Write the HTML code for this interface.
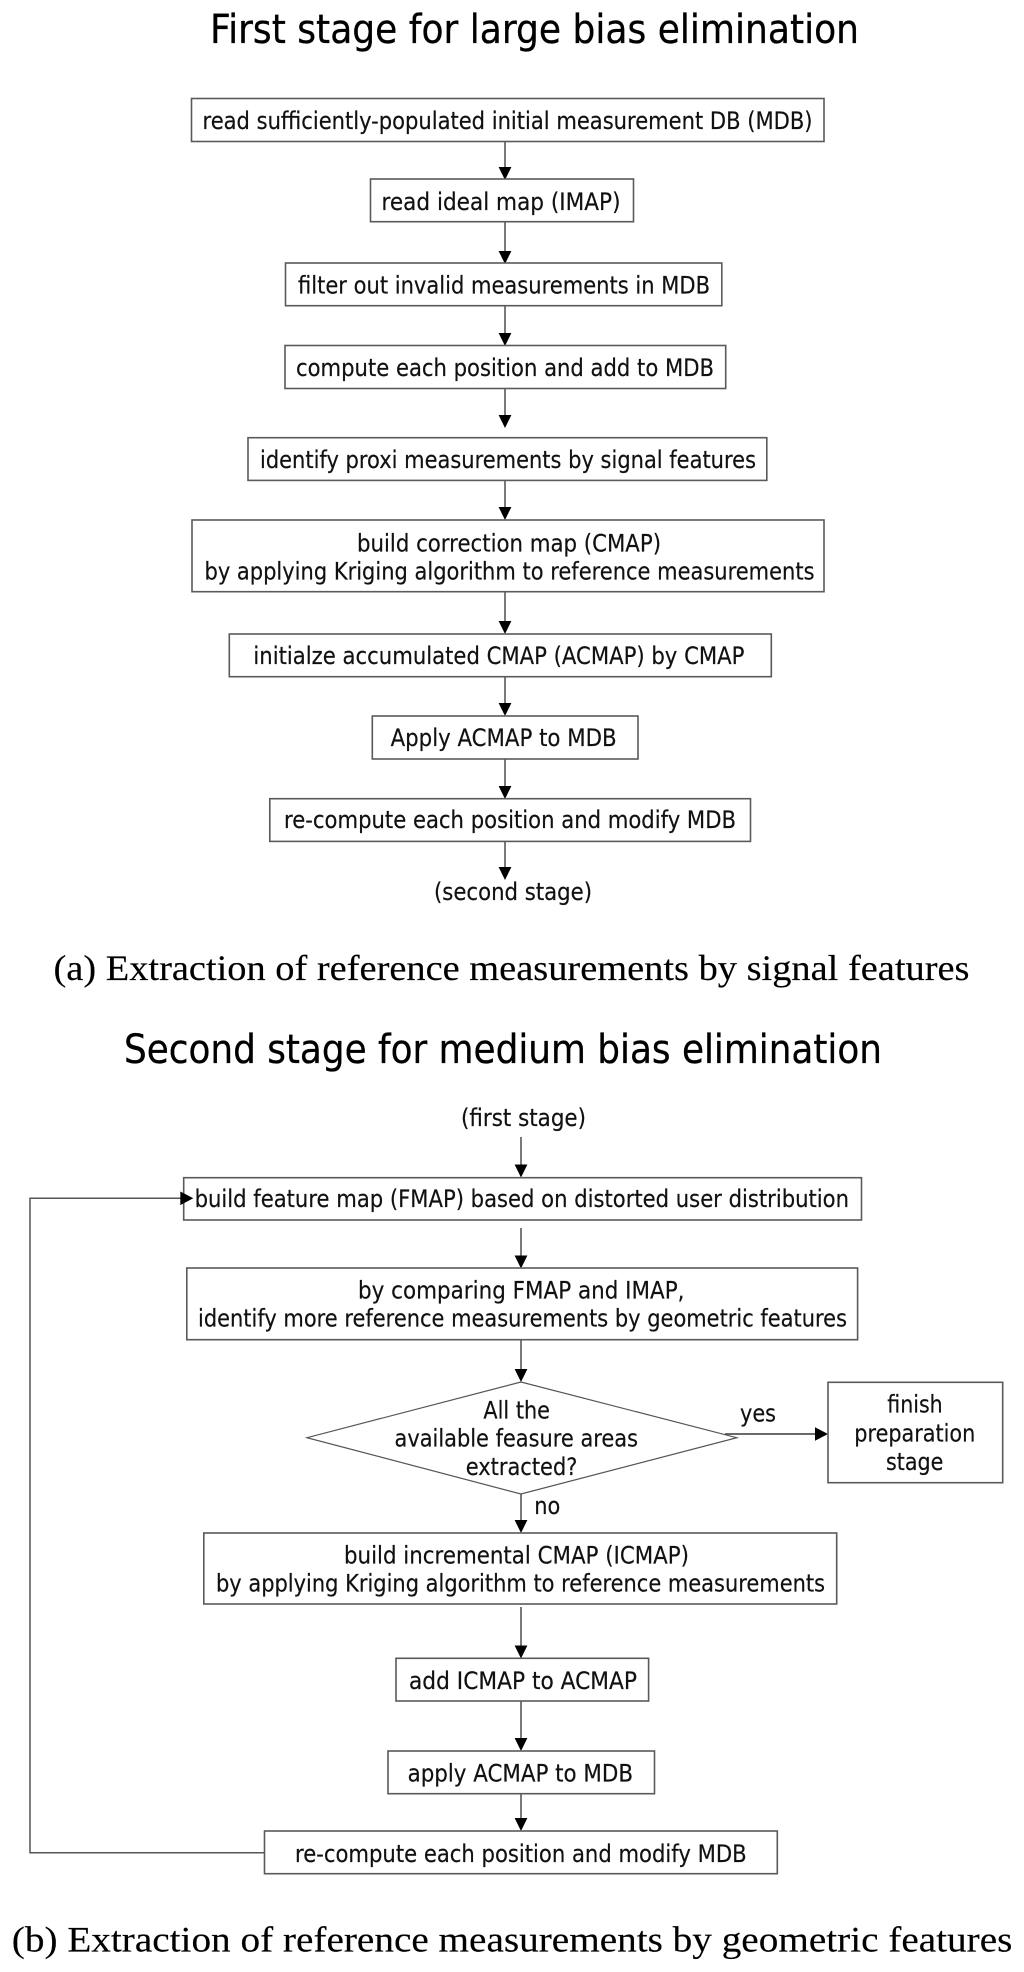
<!DOCTYPE html>
<html>
<head>
<meta charset="utf-8">
<style>
html,body{margin:0;padding:0;background:#fff;width:1024px;height:1972px;overflow:hidden}
svg{display:block}
.t{font-family:"DejaVu Sans","Liberation Sans",sans-serif;font-size:24px;fill:#111;stroke:#111;stroke-width:.2}
.h{font-family:"DejaVu Sans","Liberation Sans",sans-serif;font-size:40px;fill:#000;stroke:#000;stroke-width:.3}
.c{font-family:"Liberation Serif",serif;font-size:36px;fill:#000;stroke:#000;stroke-width:.15}
.b{fill:#fff;stroke:#5a5a5a;stroke-width:1.6}
.l{stroke:#333;stroke-width:1.3;fill:none}
.a{fill:#000}
</style>
</head>
<body>
<svg width="1024" height="1972" viewBox="0 0 1024 1972" xmlns="http://www.w3.org/2000/svg">
<rect width="1024" height="1972" fill="#fff"/>

<!-- connectors, first stage -->
<path class="l" d="M505 141V170M505 222V252M505 306V335M505 388V418M505 480V510M505 592V624M505 677V706M505 757V789M505 841V870"/>
<path class="a" d="M505 180l-6.4-13h12.8zM505 264l-6.4-13h12.8zM505 346l-6.4-13h12.8zM505 428l-6.4-13h12.8zM505 520l-6.4-13h12.8zM505 634l-6.4-13h12.8zM505 716l-6.4-13h12.8zM505 799l-6.4-13h12.8zM505 880l-6.4-13h12.8z"/>

<text class="h" x="210" y="43" textLength="649" lengthAdjust="spacingAndGlyphs">First stage for large bias elimination</text>

<rect class="b" x="191.5" y="98.5" width="632.5" height="43"/>
<text class="t" x="202.5" y="129" textLength="610" lengthAdjust="spacingAndGlyphs">read sufficiently-populated initial measurement DB (MDB)</text>
<rect class="b" x="370.5" y="179" width="263" height="42.7"/>
<text class="t" x="381.5" y="210" textLength="239" lengthAdjust="spacingAndGlyphs">read ideal map (IMAP)</text>
<rect class="b" x="285.5" y="263" width="436.3" height="42.7"/>
<text class="t" x="298" y="293.5" textLength="412" lengthAdjust="spacingAndGlyphs">filter out invalid measurements in MDB</text>
<rect class="b" x="285" y="345.5" width="440.7" height="43"/>
<text class="t" x="296" y="376" textLength="418" lengthAdjust="spacingAndGlyphs">compute each position and add to MDB</text>
<rect class="b" x="248" y="437.7" width="518.8" height="42.7"/>
<text class="t" x="260" y="468" textLength="496" lengthAdjust="spacingAndGlyphs">identify proxi measurements by signal features</text>
<rect class="b" x="192" y="520" width="632" height="71.7"/>
<text class="t" x="357" y="551.7" textLength="304" lengthAdjust="spacingAndGlyphs">build correction map (CMAP)</text>
<text class="t" x="204.5" y="579.3" textLength="610" lengthAdjust="spacingAndGlyphs">by applying Kriging algorithm to reference measurements</text>
<rect class="b" x="229.3" y="634" width="542" height="42.7"/>
<text class="t" x="253.4" y="664" textLength="491" lengthAdjust="spacingAndGlyphs">initialze accumulated CMAP (ACMAP) by CMAP</text>
<rect class="b" x="372.3" y="716" width="265.7" height="43"/>
<text class="t" x="390.6" y="746" textLength="226" lengthAdjust="spacingAndGlyphs">Apply ACMAP to MDB</text>
<rect class="b" x="269.8" y="798.7" width="480.7" height="42.7"/>
<text class="t" x="284" y="828" textLength="452" lengthAdjust="spacingAndGlyphs">re-compute each position and modify MDB</text>
<text class="t" x="434" y="900" textLength="158" lengthAdjust="spacingAndGlyphs">(second stage)</text>

<text class="c" x="53.5" y="980" textLength="916" lengthAdjust="spacingAndGlyphs">(a) Extraction of reference measurements by signal features</text>

<!-- second stage -->
<text class="h" x="124" y="1063" textLength="758" lengthAdjust="spacingAndGlyphs">Second stage for medium bias elimination</text>
<text class="t" x="461" y="1126" textLength="125" lengthAdjust="spacingAndGlyphs">(first stage)</text>

<path class="l" d="M521 1137V1167M521 1228V1258M521 1340V1372M521 1494V1523M521 1607V1648M521 1701V1741M521 1790V1821"/>
<path class="a" d="M521 1177.5l-6.4-13h12.8zM521 1268.5l-6.4-13h12.8zM521 1382l-6.4-13h12.8zM521 1533l-6.4-13h12.8zM521 1658.5l-6.4-13h12.8zM521 1751l-6.4-13h12.8zM521 1831l-6.4-13h12.8z"/>

<rect class="b" x="183.7" y="1177.7" width="677.8" height="42.3"/>
<text class="t" x="194.6" y="1207" textLength="654.4" lengthAdjust="spacingAndGlyphs">build feature map (FMAP) based on distorted user distribution</text>

<rect class="b" x="186.8" y="1268" width="670.8" height="71.7"/>
<text class="t" x="358" y="1298.3" textLength="326.5" lengthAdjust="spacingAndGlyphs">by comparing FMAP and IMAP,</text>
<text class="t" x="198" y="1326.7" textLength="649" lengthAdjust="spacingAndGlyphs">identify more reference measurements by geometric features</text>

<path d="M521 1382L307 1437.7L521 1494L736.8 1437.7Z" fill="#fff" stroke="#555" stroke-width="1.2"/>
<text class="t" x="483.4" y="1418.3" textLength="66.6" lengthAdjust="spacingAndGlyphs">All the</text>
<text class="t" x="394.5" y="1446.7" textLength="243.5" lengthAdjust="spacingAndGlyphs">available feasure areas</text>
<text class="t" x="465.7" y="1475" textLength="111.7" lengthAdjust="spacingAndGlyphs">extracted?</text>

<path d="M725 1434H817" stroke="#555" stroke-width="1.7" fill="none"/>
<path class="a" d="M828 1434l-13-6.8v13.6z"/>
<text class="t" x="740" y="1421.7" textLength="36" lengthAdjust="spacingAndGlyphs">yes</text>

<rect class="b" x="828" y="1382.3" width="174.7" height="100.4"/>
<text class="t" x="887.3" y="1412.7" textLength="55.4" lengthAdjust="spacingAndGlyphs">finish</text>
<text class="t" x="854.3" y="1441.7" textLength="121" lengthAdjust="spacingAndGlyphs">preparation</text>
<text class="t" x="886" y="1470" textLength="57.3" lengthAdjust="spacingAndGlyphs">stage</text>

<text class="t" x="534.3" y="1514" textLength="26" lengthAdjust="spacingAndGlyphs">no</text>

<rect class="b" x="203.8" y="1533" width="632.9" height="71"/>
<text class="t" x="344" y="1563.3" textLength="345" lengthAdjust="spacingAndGlyphs">build incremental CMAP (ICMAP)</text>
<text class="t" x="216" y="1591.7" textLength="609" lengthAdjust="spacingAndGlyphs">by applying Kriging algorithm to reference measurements</text>

<rect class="b" x="396" y="1658.3" width="252.6" height="42.7"/>
<text class="t" x="409" y="1689" textLength="228" lengthAdjust="spacingAndGlyphs">add ICMAP to ACMAP</text>

<rect class="b" x="388" y="1751" width="266.5" height="42.7"/>
<text class="t" x="407.6" y="1781.7" textLength="225.4" lengthAdjust="spacingAndGlyphs">apply ACMAP to MDB</text>

<rect class="b" x="264.5" y="1831" width="512.8" height="42.7"/>
<text class="t" x="295" y="1862" textLength="451.6" lengthAdjust="spacingAndGlyphs">re-compute each position and modify MDB</text>

<path d="M264.5 1852.7H30V1198.3H182" stroke="#555" stroke-width="1.5" fill="none"/>
<path class="a" d="M193.3 1198.3l-13-6.8v13.6z"/>

<text class="c" x="11.8" y="1951.7" textLength="1000.6" lengthAdjust="spacingAndGlyphs">(b) Extraction of reference measurements by geometric features</text>
</svg>
</body>
</html>
